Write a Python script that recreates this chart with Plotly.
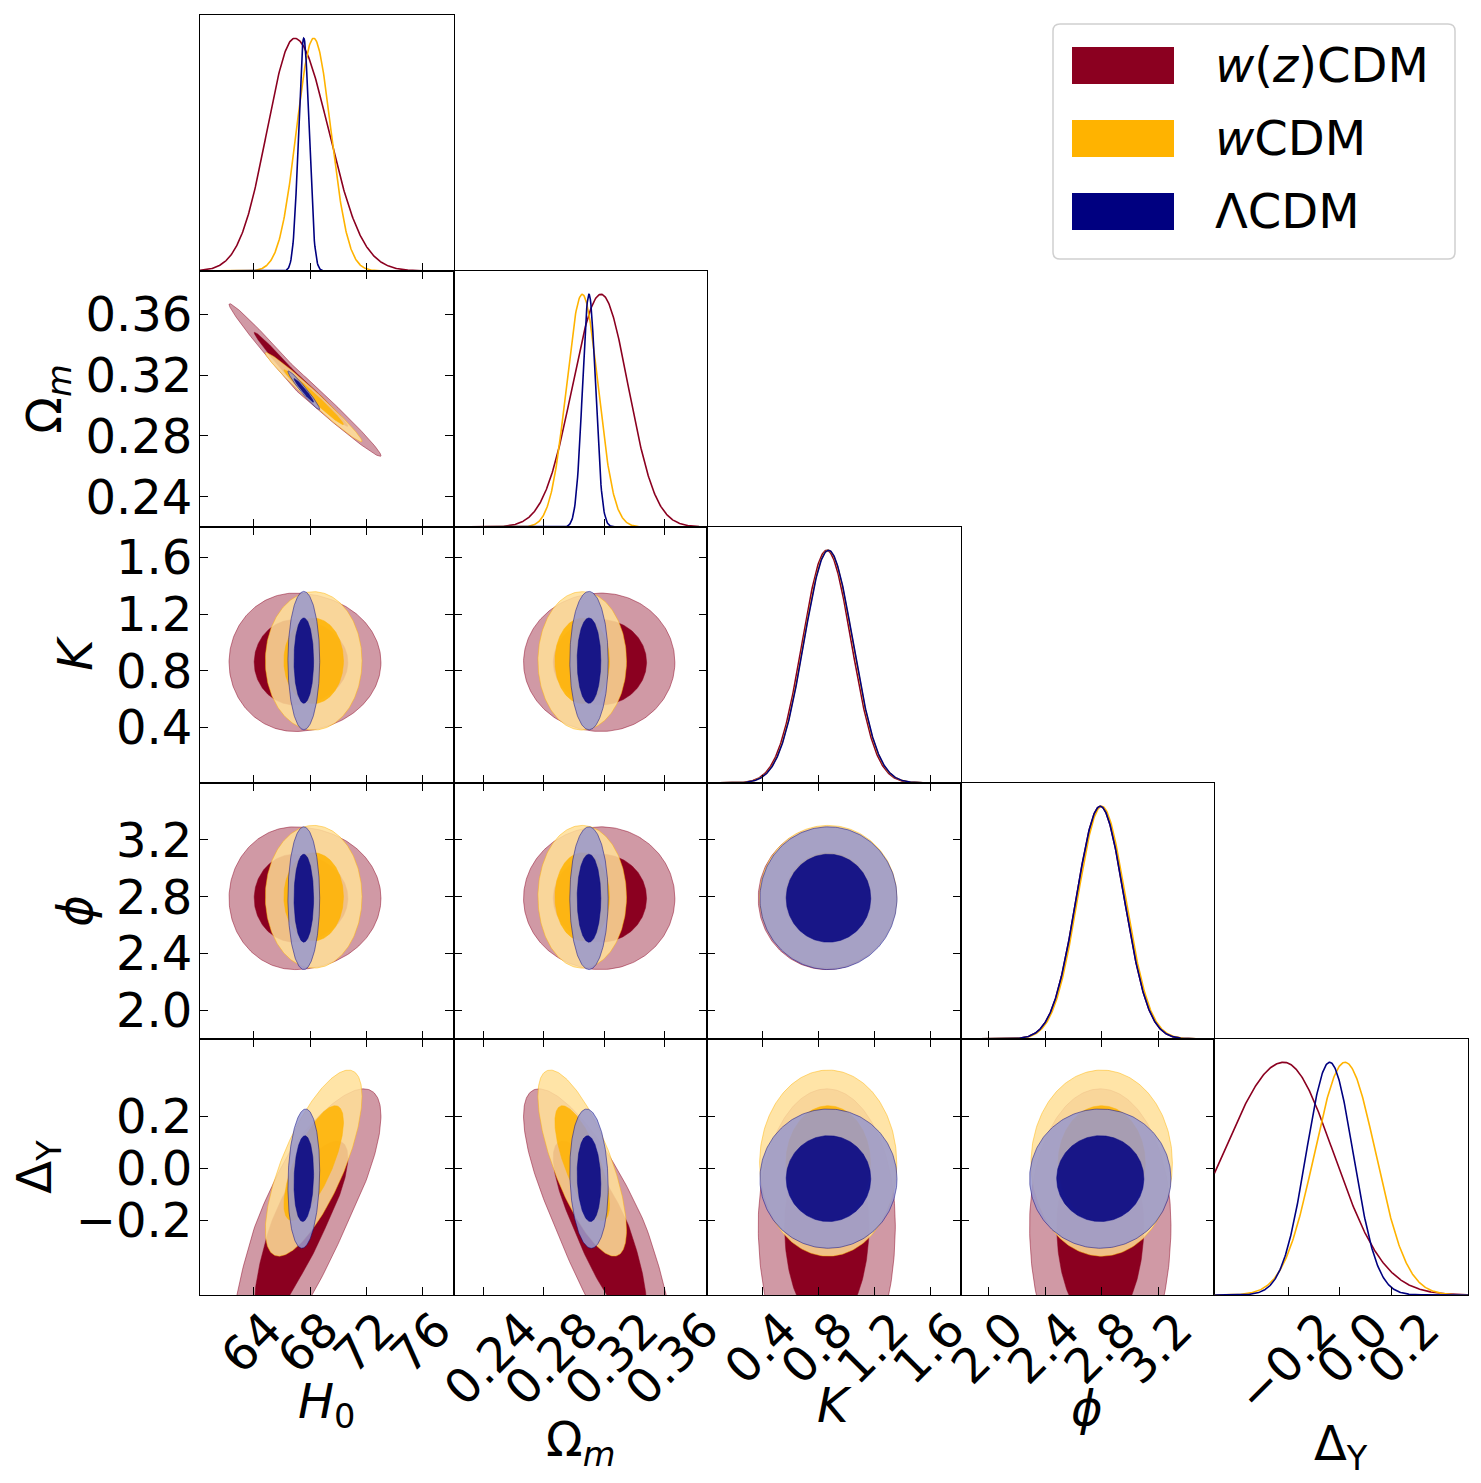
import numpy as np
import plotly.graph_objects as go
from plotly.subplots import make_subplots

# ---------------- data ----------------
param_labels = ["<i>H</i><sub>0</sub>", "Ω<sub><i>m</i></sub>", "<i>K</i>", "<i>ϕ</i>", "Δ<sub>Y</sub>"]
axis_ranges = [[60.19, 78.17], [0.2202, 0.3884], [0.006, 1.817], [1.80, 3.60], [-0.49, 0.50]]
tick_vals = [[64, 68, 72, 76], [0.24, 0.28, 0.32, 0.36], [0.4, 0.8, 1.2, 1.6],
             [2.0, 2.4, 2.8, 3.2], [-0.2, 0.0, 0.2]]
tick_text = [["64", "68", "72", "76"], ["0.24", "0.28", "0.32", "0.36"], ["0.4", "0.8", "1.2", "1.6"],
             ["2.0", "2.4", "2.8", "3.2"], ["−0.2", "0.0", "0.2"]]

model_names = ["<i>w</i>(<i>z</i>)CDM", "<i>w</i>CDM", "ΛCDM"]
model_colors = [(139, 0, 32), (255, 179, 0), (0, 0, 128)]
model_fill_alpha = [1.0, 0.86, 0.86]

# posterior summaries: order H0, Om, K, phi, DeltaY
wz_mode = [66.9, 0.318, 0.86, 2.79, -0.219]
wz_sig2d_lo = [1.9, 0.021, 0.20, 0.205, 0.26]
wz_sig2d_hi = [2.5, 0.020, 0.20, 0.205, 0.215]
wz_sig1d_lo = [1.95, 0.019, 0.175, 0.17, 0.238]
wz_sig1d_hi = [2.4, 0.018, 0.175, 0.17, 0.195]
wz_corr = [[1.0, -0.99, 0.0, 0.0, 0.80],
           [-0.99, 1.0, 0.0, 0.0, -0.80],
           [0.0, 0.0, 1.0, 0.0, 0.0],
           [0.0, 0.0, 0.0, 1.0, 0.0],
           [0.80, -0.80, 0.0, 0.0, 1.0]]

w_mode = [68.25, 0.3055, 0.87, 2.80, 0.02]
w_sig2d_lo = [1.4, 0.012, 0.20, 0.205, 0.147]
w_sig2d_hi = [1.4, 0.012, 0.20, 0.205, 0.147]
w_sig1d_lo = [1.22, 0.0105, 0.175, 0.17, 0.12]
w_sig1d_hi = [1.22, 0.0105, 0.175, 0.17, 0.12]
w_corr = [[1.0, -0.985, 0.0, 0.0, 0.72],
          [-0.985, 1.0, 0.0, 0.0, -0.72],
          [0.0, 0.0, 1.0, 0.0, 0.0],
          [0.0, 0.0, 0.0, 1.0, 0.0],
          [0.72, -0.72, 0.0, 0.0, 1.0]]

l_mode = [67.55, 0.310, 0.872, 2.79, -0.04]
l_sig2d_lo = [0.46, 0.0052, 0.20, 0.205, 0.11]
l_sig2d_hi = [0.46, 0.0052, 0.20, 0.205, 0.11]
l_sig1d_lo = [0.37, 0.0043, 0.175, 0.17, 0.092]
l_sig1d_hi = [0.37, 0.0043, 0.175, 0.17, 0.092]
l_corr = [[1.0, -0.97, 0.0, 0.0, 0.12],
          [-0.97, 1.0, 0.0, 0.0, -0.12],
          [0.0, 0.0, 1.0, 0.0, 0.0],
          [0.0, 0.0, 0.0, 1.0, 0.0],
          [0.12, -0.12, 0.0, 0.0, 1.0]]

models = [
    dict(mode=wz_mode, s2lo=wz_sig2d_lo, s2hi=wz_sig2d_hi, s1lo=wz_sig1d_lo, s1hi=wz_sig1d_hi, corr=wz_corr),
    dict(mode=w_mode, s2lo=w_sig2d_lo, s2hi=w_sig2d_hi, s1lo=w_sig1d_lo, s1hi=w_sig1d_hi, corr=w_corr),
    dict(mode=l_mode, s2lo=l_sig2d_lo, s2hi=l_sig2d_hi, s1lo=l_sig1d_lo, s1hi=l_sig1d_hi, corr=l_corr),
]
contour_levels = [0.95, 0.68]

# ---------------- style ----------------
FONT = "DejaVu Sans"
FS = 48
L, R, T, B = 200, 13, 15, 188
W, H = 1481, 1483
PW, PH = W - L - R, H - T - B
N = 5


def rgba(c, a):
    return "rgba(%d,%d,%d,%.3f)" % (c[0], c[1], c[2], a)


def lighter(c, f=0.40):
    return tuple(255 - f * (255 - v) for v in c)


def split_map(z, mu, slo, shi):
    return np.where(z < 0, mu + slo * z, mu + shi * z)


fig = make_subplots(rows=N, cols=N, horizontal_spacing=0, vertical_spacing=0)

theta = np.linspace(0, 2 * np.pi, 241)
for i in range(N):
    for j in range(N):
        if j > i:
            continue
        if i == j:
            xs = np.linspace(axis_ranges[j][0], axis_ranges[j][1], 500)
            for m, c in zip(models, model_colors):
                mu = m["mode"][j]
                s = np.where(xs < mu, m["s1lo"][j], m["s1hi"][j])
                dens = np.exp(-0.5 * ((xs - mu) / s) ** 2)
                fig.add_trace(go.Scatter(x=xs, y=dens, mode="lines",
                                         line=dict(color=rgba(c, 1), width=1.6),
                                         hoverinfo="skip", showlegend=False),
                              row=i + 1, col=j + 1)
        else:
            for m, c, fa in zip(models, model_colors, model_fill_alpha):
                rho = m["corr"][j][i]
                for lev in contour_levels:
                    r = np.sqrt(-2 * np.log(1 - lev))
                    u = r * np.cos(theta)
                    v = r * np.sin(theta)
                    zx = u
                    zy = rho * u + np.sqrt(1 - rho ** 2) * v
                    px = split_map(zx, m["mode"][j], m["s2lo"][j], m["s2hi"][j])
                    py = split_map(zy, m["mode"][i], m["s2lo"][i], m["s2hi"][i])
                    fcol = lighter(c) if lev == 0.95 else c
                    fig.add_trace(go.Scatter(x=px, y=py, mode="lines", fill="toself",
                                             fillcolor=rgba(fcol, fa),
                                             line=dict(color=rgba(c, 0.6), width=0.8),
                                             hoverinfo="skip", showlegend=False),
                              row=i + 1, col=j + 1)

label_shift = [14, 40, 20, 20, 34]

for i in range(N):
    for j in range(N):
        idx = i * N + j + 1
        xa = "xaxis" if idx == 1 else "xaxis%d" % idx
        ya = "yaxis" if idx == 1 else "yaxis%d" % idx
        if j > i:
            fig.layout[xa].update(visible=False)
            fig.layout[ya].update(visible=False)
            continue
        common = dict(showline=True, linecolor="black", linewidth=1.3, showgrid=False,
                      zeroline=False, ticks="inside", ticklen=8, tickwidth=1.3, tickcolor="black",
                      tickfont=dict(family=FONT, size=FS, color="black"))
        xupd = dict(common, range=axis_ranges[j], tickmode="array", tickvals=tick_vals[j],
                    ticktext=tick_text[j], mirror=("ticks" if i != j else True),
                    showticklabels=(i == N - 1), tickangle=-45)
        if i == N - 1:
            xupd.update(ticklabelshift=label_shift[j], ticklabelstandoff=-14)
        fig.layout[xa].update(**xupd)
        if i == j:
            fig.layout[ya].update(range=[0, 1.1], showline=True, linecolor="black", linewidth=1.3,
                                  mirror=True, ticks="", showticklabels=False, showgrid=False,
                                  zeroline=False)
        else:
            yupd = dict(common, range=axis_ranges[i], tickmode="array", tickvals=tick_vals[i],
                        ticktext=tick_text[i], mirror="ticks", showticklabels=(j == 0))
            if j == 0:
                yupd.update(title=dict(text=param_labels[i], font=dict(family=FONT, size=FS, color="black"),
                                       standoff=8),
                            ticklabelstandoff=-3)
            fig.layout[ya].update(**yupd)


# ---------------- legend and x titles (drawn manually to mimic matplotlib) ----------------
def pp(px, py):
    return (px - L) / PW, (PH + T - py) / PH


annotations = []
xtitle_pos = [(326, 1404), (580, 1442), (834, 1405), (1087, 1408), (1341, 1446)]
for k in range(N):
    tx, ty = pp(*xtitle_pos[k])
    annotations.append(dict(xref="paper", yref="paper", x=tx, y=ty, xanchor="center", yanchor="middle",
                            text=param_labels[k], showarrow=False,
                            font=dict(family=FONT, size=FS, color="black")))

bx0, by0 = pp(1053, 259)
bx1, by1 = pp(1455, 24)
rx, ry = 7 / PW, 7 / PH
path = ("M %f,%f L %f,%f Q %f,%f %f,%f L %f,%f Q %f,%f %f,%f L %f,%f Q %f,%f %f,%f L %f,%f Q %f,%f %f,%f Z" % (
    bx0 + rx, by0, bx1 - rx, by0, bx1, by0, bx1, by0 + ry, bx1, by1 - ry, bx1, by1, bx1 - rx, by1,
    bx0 + rx, by1, bx0, by1, bx0, by1 - ry, bx0, by0 + ry, bx0, by0, bx0 + rx, by0))
shapes = [dict(type="path", xref="paper", yref="paper", path=path,
               line=dict(color="#d0d0d0", width=1.5), fillcolor="rgba(255,255,255,0.8)")]
row_tops = [47, 120, 193]
for k, (name, c) in enumerate(zip(model_names, model_colors)):
    x0, y0 = pp(1072, row_tops[k] + 37)
    x1, y1 = pp(1174, row_tops[k])
    shapes.append(dict(type="rect", xref="paper", yref="paper", x0=x0, y0=y0, x1=x1, y1=y1,
                       line=dict(width=0), fillcolor=rgba(c, 1)))
    tx, ty = pp(1213, row_tops[k] + 18)
    annotations.append(dict(xref="paper", yref="paper", x=tx, y=ty, xanchor="left", yanchor="middle",
                            text=name, showarrow=False, font=dict(family=FONT, size=FS, color="black")))

fig.update_layout(width=W, height=H, margin=dict(l=L, r=R, t=T, b=B, autoexpand=False),
                  paper_bgcolor="white", plot_bgcolor="white", showlegend=False,
                  shapes=shapes, annotations=annotations)

fig.write_html("out.html")
